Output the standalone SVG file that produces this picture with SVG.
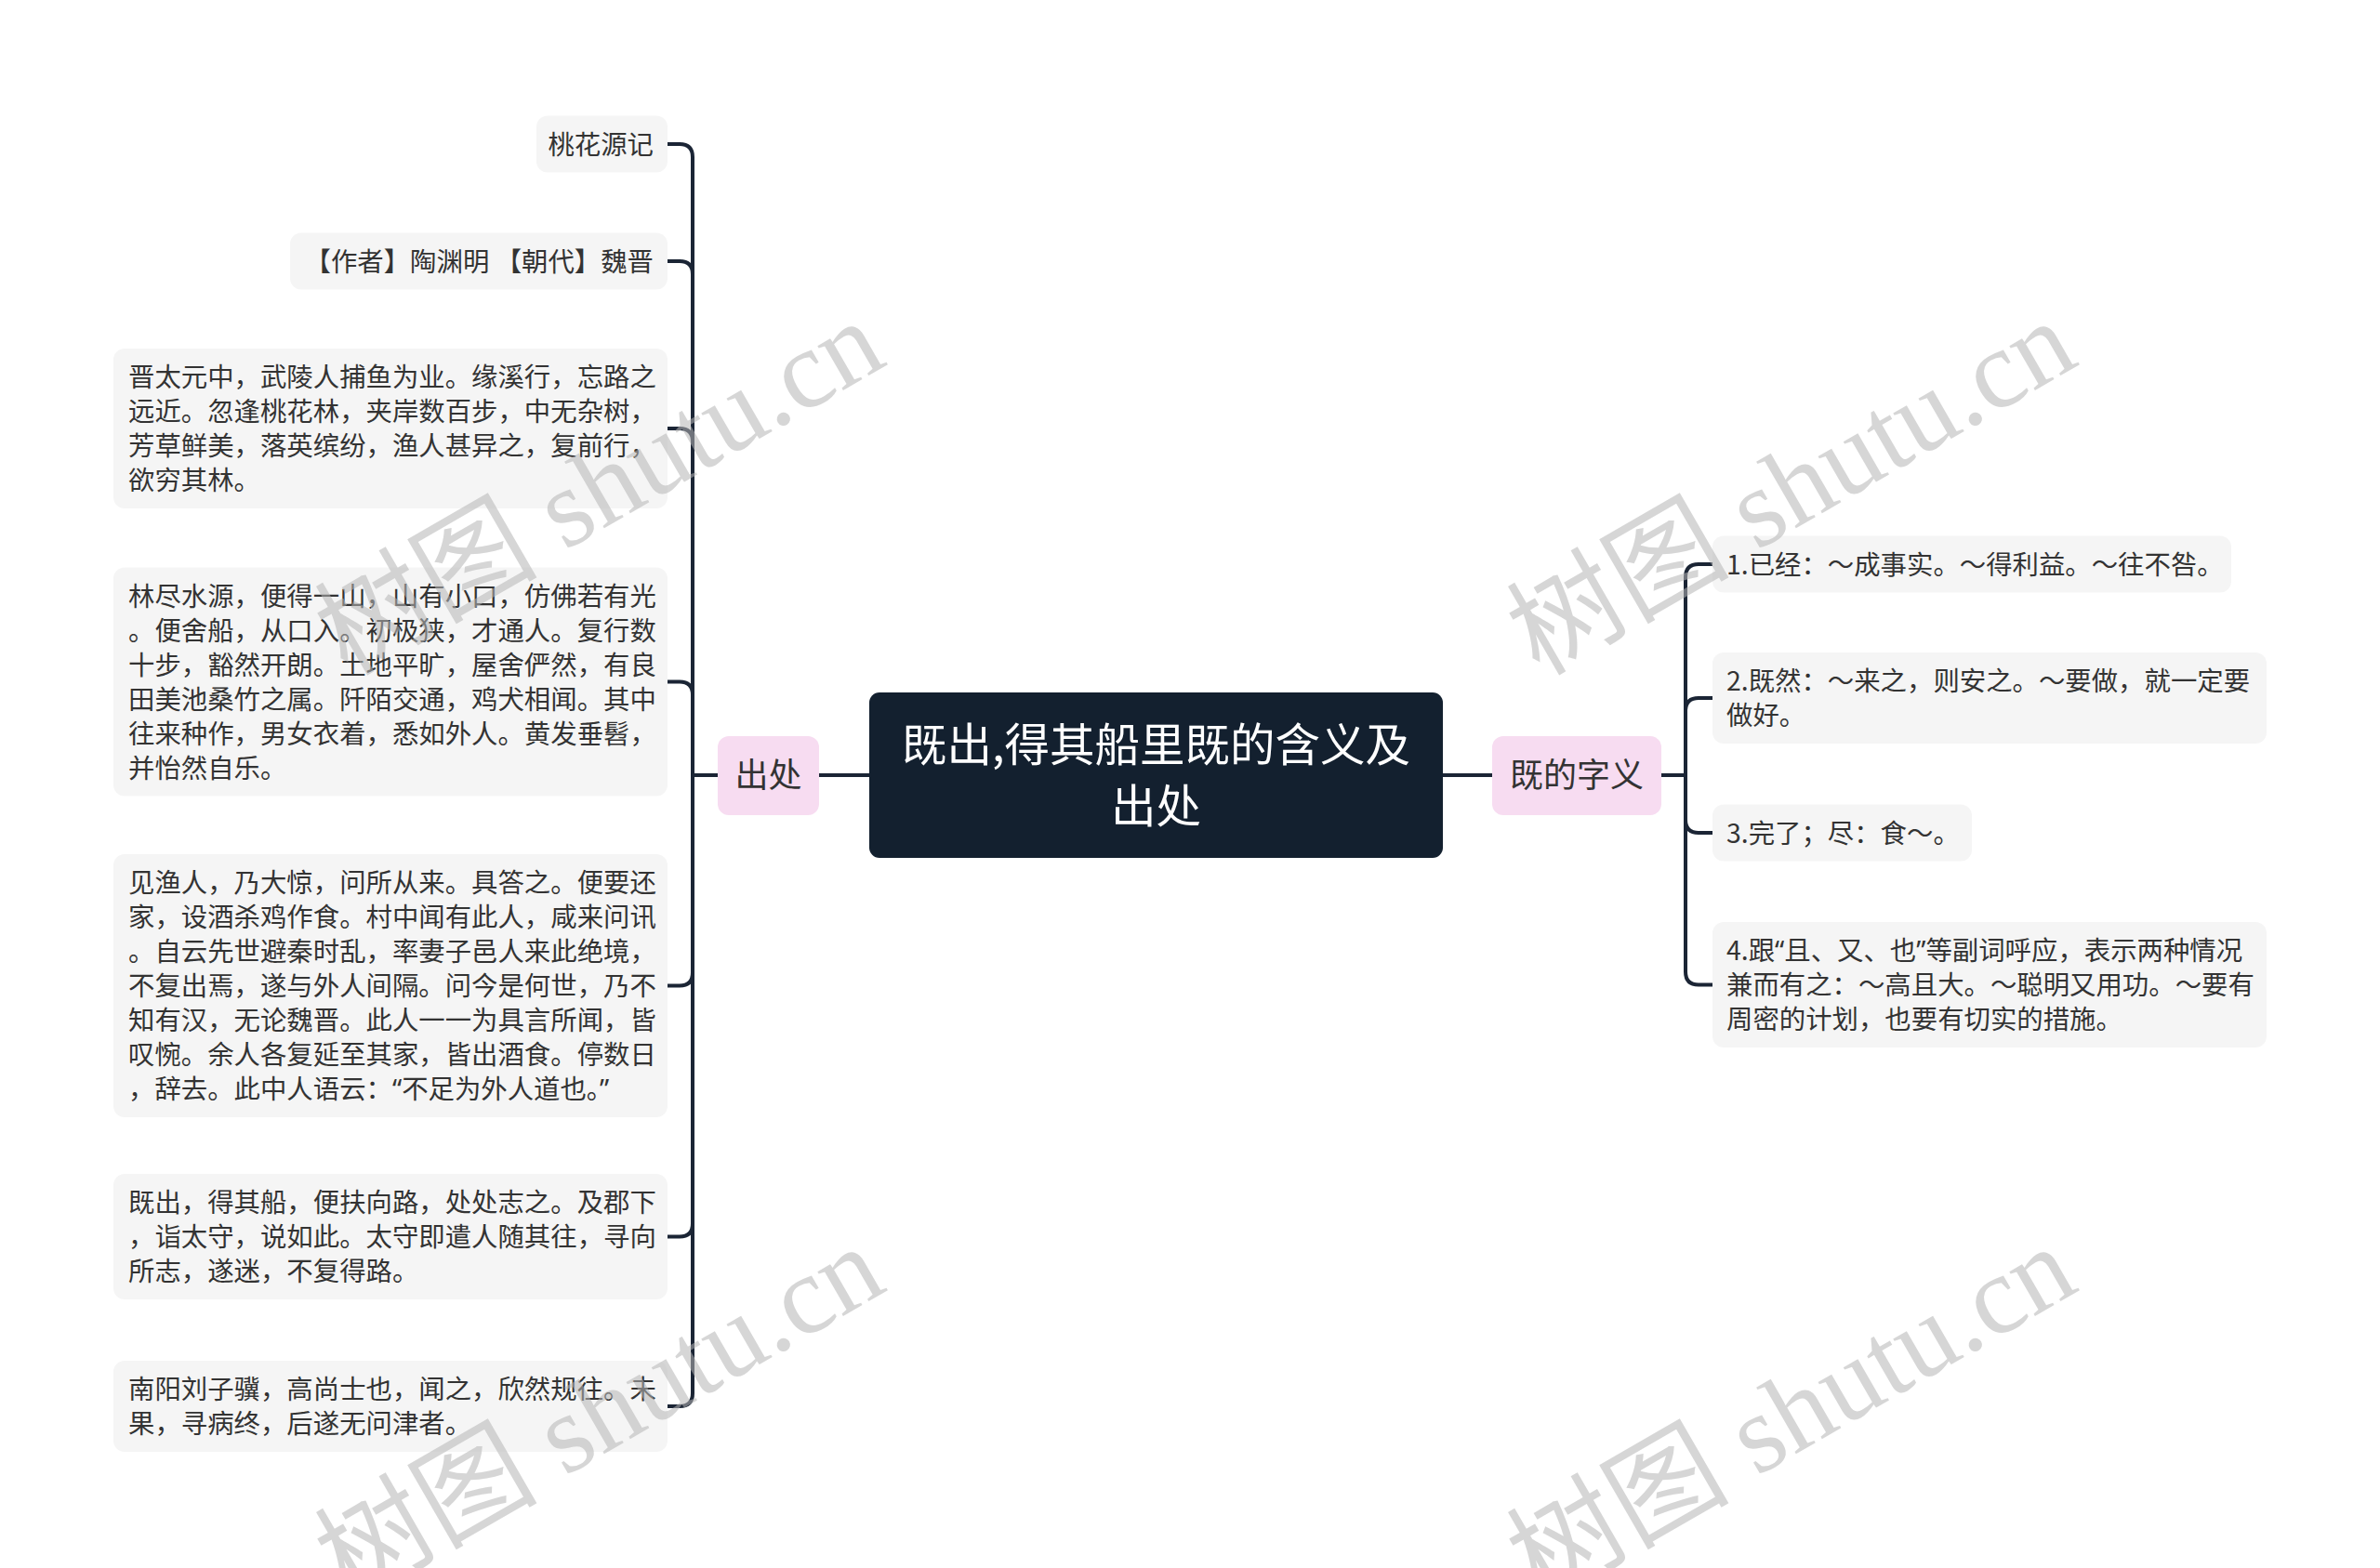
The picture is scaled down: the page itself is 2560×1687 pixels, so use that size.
<svg xmlns="http://www.w3.org/2000/svg" width="2560" height="1687" viewBox="0 0 2560 1687">
<style>
.leaf{fill:#f5f5f5}
.pink{fill:#f7dcf1}
.t{font-family:"Noto Sans CJK SC","Noto Sans",sans-serif;font-size:28.4px;fill:#333333}
.q{font-family:"Noto Sans","Noto Sans CJK SC",sans-serif}
.tm{font-family:"Noto Sans CJK SC","Noto Sans",sans-serif;font-size:36px;fill:#333333;text-anchor:middle}
.tt{font-family:"Noto Sans CJK SC","Noto Sans",sans-serif;font-size:48.5px;fill:#ffffff;text-anchor:middle}
.ln{fill:none;stroke:#1b2535;stroke-width:4;stroke-linecap:round;stroke-linejoin:round}
.wm{font-family:"Liberation Serif","Noto Sans CJK SC",serif;font-size:120px;fill:#b5b5b5;fill-opacity:0.55;text-anchor:middle}
</style>
<rect width="2560" height="1687" fill="#ffffff"/>
<g id="connectors">
<path class="ln" d="M881 834H935"/>
<path class="ln" d="M1552 834H1605"/>
<path class="ln" d="M772 834H745V169Q745 155 731 155H718"/>
<path class="ln" d="M772 834H745V295Q745 281 731 281H718"/>
<path class="ln" d="M772 834H745V475Q745 461 731 461H718"/>
<path class="ln" d="M772 834H745V747.5Q745 733.5 731 733.5H718"/>
<path class="ln" d="M772 834H745V1046.5Q745 1060.5 731 1060.5H718"/>
<path class="ln" d="M772 834H745V1316.5Q745 1330.5 731 1330.5H718"/>
<path class="ln" d="M772 834H745V1499Q745 1513 731 1513H718"/>
<path class="ln" d="M1787 834H1813V621Q1813 607 1827 607H1842"/>
<path class="ln" d="M1787 834H1813V765Q1813 751 1827 751H1842"/>
<path class="ln" d="M1787 834H1813V882Q1813 896 1827 896H1842"/>
<path class="ln" d="M1787 834H1813V1045.5Q1813 1059.5 1827 1059.5H1842"/>
</g>
<g id="root">
<rect x="935" y="745" width="617" height="178" rx="11" fill="#13202f"/>
<text class="tt"><tspan x="1243.5" y="819">既出,得其船里既的含义及</tspan><tspan x="1243.5" y="885">出处</tspan></text>
</g>
<g id="node-chuchu">
<rect class="pink" x="772" y="792" width="109" height="85" rx="12"/>
<text class="tm" x="826.5" y="847">出处</text>
</g>
<g id="node-ziyi">
<rect class="pink" x="1605" y="792" width="182" height="85" rx="12"/>
<text class="tm" x="1696" y="847">既的字义</text>
</g>
<g id="leaf-l1">
<rect class="leaf" x="577" y="124.5" width="141" height="61" rx="12"/>
<text class="t" x="703" y="165.5" text-anchor="end">桃花源记</text>
</g>
<g id="leaf-l2">
<rect class="leaf" x="312" y="250.5" width="406" height="61" rx="12"/>
<text class="t" x="703" y="291.5" text-anchor="end">【作者】陶渊明 【朝代】魏晋</text>
</g>
<g id="leaf-l3">
<rect class="leaf" x="122" y="375" width="596" height="172" rx="12"/>
<text class="t"><tspan x="138" y="416">晋太元中，武陵人捕鱼为业。缘溪行，忘路之</tspan><tspan x="138" y="453">远近。忽逢桃花林，夹岸数百步，中无杂树，</tspan><tspan x="138" y="490">芳草鲜美，落英缤纷，渔人甚异之，复前行，</tspan><tspan x="138" y="527">欲穷其林。</tspan></text>
</g>
<g id="leaf-l4">
<rect class="leaf" x="122" y="610.5" width="596" height="246" rx="12"/>
<text class="t"><tspan x="138" y="651.5">林尽水源，便得一山，山有小口，仿佛若有光</tspan><tspan x="138" y="688.5">。便舍船，从口入。初极狭，才通人。复行数</tspan><tspan x="138" y="725.5">十步，豁然开朗。土地平旷，屋舍俨然，有良</tspan><tspan x="138" y="762.5">田美池桑竹之属。阡陌交通，鸡犬相闻。其中</tspan><tspan x="138" y="799.5">往来种作，男女衣着，悉如外人。黄发垂髫，</tspan><tspan x="138" y="836.5">并怡然自乐。</tspan></text>
</g>
<g id="leaf-l5">
<rect class="leaf" x="122" y="919" width="596" height="283" rx="12"/>
<text class="t"><tspan x="138" y="960">见渔人，乃大惊，问所从来。具答之。便要还</tspan><tspan x="138" y="997">家，设酒杀鸡作食。村中闻有此人，咸来问讯</tspan><tspan x="138" y="1034">。自云先世避秦时乱，率妻子邑人来此绝境，</tspan><tspan x="138" y="1071">不复出焉，遂与外人间隔。问今是何世，乃不</tspan><tspan x="138" y="1108">知有汉，无论魏晋。此人一一为具言所闻，皆</tspan><tspan x="138" y="1145">叹惋。余人各复延至其家，皆出酒食。停数日</tspan><tspan x="138" y="1182">，辞去。此中人语云：<tspan class="q">“</tspan>不足为外人道也。<tspan class="q">”</tspan></tspan></text>
</g>
<g id="leaf-l6">
<rect class="leaf" x="122" y="1263" width="596" height="135" rx="12"/>
<text class="t"><tspan x="138" y="1304">既出，得其船，便扶向路，处处志之。及郡下</tspan><tspan x="138" y="1341">，诣太守，说如此。太守即遣人随其往，寻向</tspan><tspan x="138" y="1378">所志，遂迷，不复得路。</tspan></text>
</g>
<g id="leaf-l7">
<rect class="leaf" x="122" y="1464" width="596" height="98" rx="12"/>
<text class="t"><tspan x="138" y="1505">南阳刘子骥，高尚士也，闻之，欣然规往。未</tspan><tspan x="138" y="1542">果，寻病终，后遂无问津者。</tspan></text>
</g>
<g id="leaf-r1">
<rect class="leaf" x="1842" y="576.5" width="558" height="61" rx="12"/>
<text class="t" x="1857" y="617.5">1.已经：～成事实。～得利益。～往不咎。</text>
</g>
<g id="leaf-r2">
<rect class="leaf" x="1842" y="702" width="596" height="98" rx="12"/>
<text class="t"><tspan x="1857" y="743">2.既然：～来之，则安之。～要做，就一定要</tspan><tspan x="1857" y="780">做好。</tspan></text>
</g>
<g id="leaf-r3">
<rect class="leaf" x="1842" y="865.5" width="279" height="61" rx="12"/>
<text class="t" x="1857" y="906.5">3.完了；尽：食～。</text>
</g>
<g id="leaf-r4">
<rect class="leaf" x="1842" y="992" width="596" height="135" rx="12"/>
<text class="t"><tspan x="1857" y="1033">4.跟<tspan class="q">“</tspan>且、又、也<tspan class="q">”</tspan>等副词呼应，表示两种情况</tspan><tspan x="1857" y="1070">兼而有之：～高且大。～聪明又用功。～要有</tspan><tspan x="1857" y="1107">周密的计划，也要有切实的措施。</tspan></text>
</g>
<g id="watermarks">
<text class="wm" transform="translate(645 525) rotate(-30)" x="0" y="40">树图 shutu.cn</text>
<text class="wm" transform="translate(1927 525) rotate(-30)" x="0" y="40">树图 shutu.cn</text>
<text class="wm" transform="translate(645 1521) rotate(-30)" x="0" y="40">树图 shutu.cn</text>
<text class="wm" transform="translate(1927 1521) rotate(-30)" x="0" y="40">树图 shutu.cn</text>
</g>
</svg>
